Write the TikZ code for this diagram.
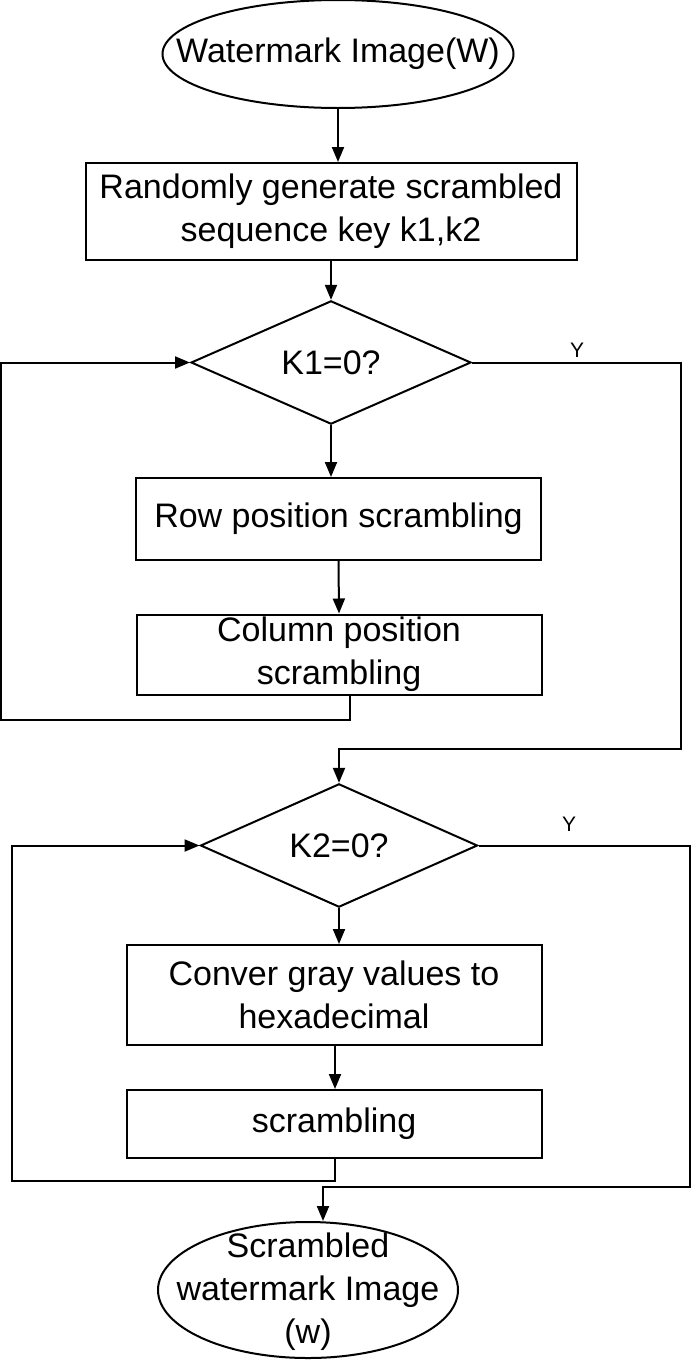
\documentclass[tikz,border=0pt]{standalone}
\usepackage{fontspec}
\setmainfont{Liberation Sans}
\usetikzlibrary{shapes.geometric,arrows.meta,calc}
\begin{document}
\begin{tikzpicture}[x=1pt,y=-1pt,
  every node/.style={font=\fontsize{34}{43}\selectfont, align=center, inner sep=0pt, line width=2pt},
  line/.style={draw, line width=2pt},
  arr/.style={line, -{Triangle[length=15pt,width=12pt]}},
  oval/.style={draw, ellipse},
  stepbox/.style={draw, rectangle},
  decide/.style={draw, diamond},
  ylabel/.style={font=\fontsize{21}{24}\selectfont}]
\useasboundingbox (0,0) rectangle (692,1360);
\node[oval, minimum width=351pt, minimum height=108pt] (top) at (338,54) {};
\node (toptext) at (top.center) {Watermark Image(W)};
\node[stepbox, minimum width=491pt, minimum height=97pt] (box1) at (331,211.5) {Randomly generate scrambled\\sequence key k1,k2};
\node[decide, minimum width=280pt, minimum height=123pt] (d1) at (331,362.5) {K1=0?};
\node[stepbox, minimum width=405pt, minimum height=82pt] (row) at (338.5,519) {Row position scrambling};
\node[stepbox, minimum width=405pt, minimum height=80pt] (col) at (339,654.5) {Column position\\scrambling};
\node[decide, minimum width=277pt, minimum height=121pt] (d2) at (339,845.5) {K2=0?};
\node[stepbox, minimum width=415pt, minimum height=100pt] (conv) at (334,995) {Conver gray values to\\hexadecimal};
\node[stepbox, minimum width=415pt, minimum height=68pt] (scr) at (334,1124) {scrambling};
\node[oval, minimum width=300pt, minimum height=136pt] (bot) at (308,1290) {};
\node (bottext) at ([yshift=-2pt]bot.center) {Scrambled\\watermark Image\\(w)};
\node[ylabel] (y1) at (577,350) {Y};
\node[ylabel] (y2) at (569,824) {Y};
\coordinate (l1) at (1,720);
\coordinate (r1) at (681,749);
\coordinate (l2) at (12,1181);
\coordinate (r2) at (690,1187);
\draw[arr] (top.south) -- (top.south |- box1.north);
\draw[arr] (box1.south -| d1.north) -- (d1.north);
\draw[arr] (d1.south) -- (d1.south |- row.north);
\draw[arr] (row.south) -- (col.north);
\draw[arr] ([xshift=11pt]col.south) |- (l1) |- (d1.west);
\draw[arr] (d1.east) -| (r1) -| (d2.north);
\draw[arr] (d2.south) -- (d2.south |- conv.north);
\draw[arr] ([xshift=1pt]conv.south) -- ([xshift=1pt]scr.north);
\draw[arr] ([xshift=1pt]scr.south) |- (l2) |- (d2.west);
\draw[arr] (d2.east) -| (r2) -| ([xshift=15pt]bot.north);
\end{tikzpicture}
\end{document}
